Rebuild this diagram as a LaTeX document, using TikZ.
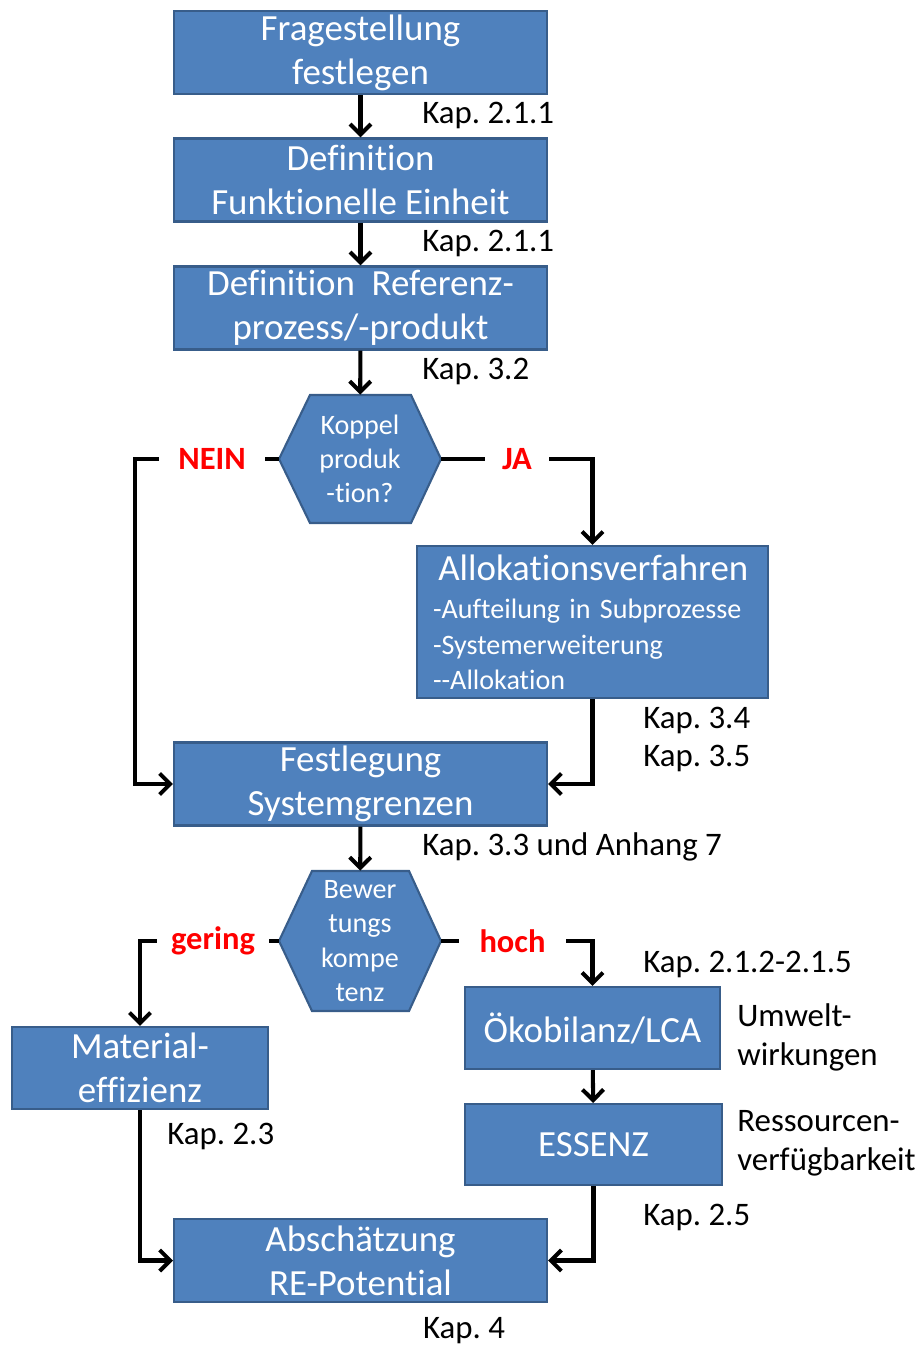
\documentclass[tikz,border=0pt]{standalone}
\usepackage{fontspec}
\setmainfont{Carlito}[Ligatures=NoCommon]
\usepackage{xcolor}
\usepackage{tikz}
\usetikzlibrary{arrows.meta}

\definecolor{boxblue}{HTML}{4F81BD}
\definecolor{boxline}{HTML}{385D8A}
\frenchspacing

\begin{document}
\begin{tikzpicture}[x=0.02cm, y=-0.02cm,
  box/.style={draw=boxline, fill=boxblue, line width=1.2pt, text=white, align=center, inner sep=0pt, font=\fontsize{21}{25}\selectfont},
  widebox/.style={box, minimum width=7.46cm, minimum height=1.66cm},
  hexbox/.style={draw=boxline, fill=boxblue, line width=1.2pt},
  hextext/.style={text=white, align=center, inner sep=0pt, minimum width=3.24cm, font=\fontsize{16}{19.5}\selectfont},
  answer/.style={text=red, inner sep=0pt, font=\fontsize{18.5}{22}\selectfont\bfseries},
  kap/.style={anchor=west, inner sep=0pt, align=left, yshift=-0.06cm, font=\fontsize{18.7}{22}\selectfont},
  line/.style={line width=2.3pt},
  arrow/.style={line width=2.3pt, -{Straight Barb[length=6pt,width=12pt]}}]
\useasboundingbox (0,0) rectangle (917,1349);

% Fragestellung und Definitionen
\node[widebox] (frage) at (360.5,52.5) {Fragestellung\\festlegen};
\node[kap] (kapFrage) at (422,112) {Kap. 2.1.1};
\node[widebox] (defFE) at (360.5,180) {Definition\\Funktionelle Einheit};
\node[kap] (kapFE) at (422,240) {Kap. 2.1.1};
\node[widebox] (defRef) at (360.5,308) {Definition\ \ Referenz-\\prozess/-produkt};
\node[kap] (kapRef) at (422,368) {Kap. 3.2};

% Koppelproduktion?
\draw[hexbox] (279,459) -- (310,395) -- (411,395) -- (441,459) -- (411,523) -- (310,523) -- cycle;
\node[hextext, minimum height=2.56cm] (koppel) at (360,459) {Koppel\\produk\\-tion?};
\node[answer, minimum width=2.1cm] (nein) at (212,459) {NEIN};
\node[answer, minimum width=1.28cm] (ja) at (517,459) {JA};

% Allokation
\node[box, minimum width=7.02cm, minimum height=3.04cm, align=left, text width=6.38cm, inner xsep=0.32cm,
  font=\fontsize{16}{20}\selectfont] (allo) at (592.5,622)
  {\hspace*{3pt}{\fontsize{21}{25}\selectfont Allokationsverfahren}\\[2pt]-Aufteilung in Subprozesse\\-Systemerweiterung\\-{}-Allokation};
\node[kap] (kapAllo) at (643,736.5) {Kap. 3.4\\Kap. 3.5};

% Systemgrenzen
\node[widebox] (fest) at (360.5,784) {Festlegung\\Systemgrenzen};
\node[kap] (kapFest) at (422,844) {Kap. 3.3 und Anhang 7};

% Bewertungskompetenz
\draw[hexbox] (279,941) -- (312,871) -- (409,871) -- (441,941) -- (409,1011) -- (312,1011) -- cycle;
\node[hextext, minimum height=2.8cm] (bewert) at (360,941) {Bewer\\tungs\\kompe\\tenz};
\node[answer, minimum width=2.24cm] (gering) at (213,941) {gering};
\node[answer, minimum width=2.14cm] (hoch) at (512.5,941) {hoch};
\node[kap] (kapHoch) at (643,961) {Kap. 2.1.2-2.1.5};

% Materialeffizienz, LCA, ESSENZ
\node[box, minimum width=5.12cm, minimum height=1.64cm] (mat) at (140,1068) {Material-\\effizienz};
\node[kap] (kapMat) at (167,1133) {Kap. 2.3};
\node[box, minimum width=5.1cm, minimum height=1.64cm] (oeko) at (592.5,1028) {Ökobilanz/LCA};
\node[kap] (umwelt) at (737,1034.5) {Umwelt-\\wirkungen};
\node[box, minimum width=5.14cm, minimum height=1.62cm] (essenz) at (593.5,1144.5) {ESSENZ};
\node[kap] (ressource) at (737,1140.5) {Ressourcen-\\verfügbarkeit};
\node[kap] (kapEssenz) at (643,1214) {Kap. 2.5};

% Abschaetzung
\node[widebox] (absch) at (360.5,1260.5) {Abschätzung\\RE-Potential};
\node[kap, anchor=center, yshift=0.06cm] (kapAbsch) at (464,1331) {Kap. 4};

% Pfeile
\draw[arrow] (frage) -- (defFE);
\draw[arrow] (defFE) -- (defRef);
\draw[arrow] (defRef) -- (koppel);
\draw[line] (koppel.west) -- (nein.east);
\draw[arrow] (nein.west) -- ++(-24,0) |- (fest.west);
\draw[line] (koppel.east) -- (ja.west);
\draw[arrow] (ja.east) -| (allo.north);
\draw[arrow] (allo.south) |- (fest.east);
\draw[arrow] (fest) -- (bewert);
\draw[line] (bewert.west) -- (gering.east);
\draw[arrow] (gering.west) -| (mat.north);
\draw[line] (bewert.east) -- (hoch.west);
\draw[arrow] (hoch.east) -| (oeko.north);
\draw[arrow] (oeko) -- (essenz);
\draw[arrow] (mat.south) |- (absch.west);
\draw[arrow] (essenz.south) |- (absch.east);

\end{tikzpicture}
\end{document}
